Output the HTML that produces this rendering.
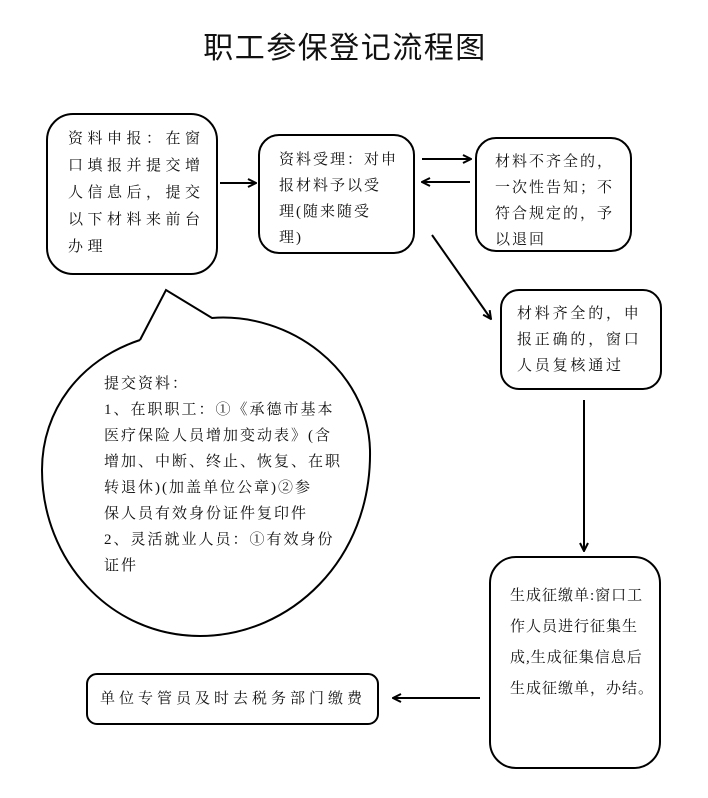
<!DOCTYPE html>
<html><head><meta charset="utf-8"><style>
html,body{margin:0;padding:0;background:#fff}
svg{display:block}
text{font-family:"Liberation Serif","Noto Serif CJK SC","Noto Sans CJK SC",serif;font-size:15px;fill:#111;letter-spacing:2px}
text.w{letter-spacing:4.5px}
text.m{letter-spacing:2.8px}
</style></head><body>
<svg width="708" height="798" viewBox="0 0 708 798" xmlns="http://www.w3.org/2000/svg">
<defs><marker id="a" markerWidth="10" markerHeight="10" refX="9" refY="5" orient="auto" markerUnits="userSpaceOnUse"><path d="M1,1 L9,5 L1,9" fill="none" stroke="#000" stroke-width="2"/></marker></defs>
<text x="345" y="58" text-anchor="middle" style="font-size:30px;font-family:'Noto Sans CJK SC',sans-serif;letter-spacing:1.5px">职工参保登记流程图</text>
<g fill="none" stroke="#000" stroke-width="2">
<rect x="47" y="114" width="170" height="160" rx="26"/>
<rect x="259" y="135" width="155" height="118" rx="20"/>
<rect x="476" y="138" width="155" height="113" rx="20"/>
<rect x="501" y="290" width="160" height="99" rx="18"/>
<rect x="490" y="557" width="170" height="211" rx="26"/>
<rect x="87" y="674" width="291" height="50" rx="10"/>
<path d="M140,340 L166,290 L212,318 C290,312 368,370 370,450 C372,560 290,636 200,636 C110,636 42,560 42,470 C42,410 80,360 140,340"/>
<line x1="220" y1="183" x2="256" y2="183" marker-end="url(#a)"/>
<line x1="422" y1="159" x2="471" y2="159" marker-end="url(#a)"/>
<line x1="470" y1="182" x2="422" y2="182" marker-end="url(#a)"/>
<line x1="432" y1="235" x2="491" y2="319" marker-end="url(#a)"/>
<line x1="584" y1="400" x2="584" y2="551" marker-end="url(#a)"/>
<line x1="480" y1="698" x2="393" y2="698" marker-end="url(#a)"/>
</g>
<text class="w" x="68" y="143">资料申报：在窗</text>
<text class="w" x="68" y="170">口填报并提交增</text>
<text class="w" x="68" y="197">人信息后，提交</text>
<text class="w" x="68" y="224">以下材料来前台</text>
<text class="w" x="68" y="251">办理</text>
<text x="279" y="164">资料受理：对申</text>
<text x="279" y="190">报材料予以受</text>
<text x="279" y="216">理(随来随受</text>
<text x="279" y="242">理)</text>
<text x="495" y="166">材料不齐全的，</text>
<text x="495" y="192">一次性告知；不</text>
<text x="495" y="218">符合规定的，予</text>
<text x="495" y="244">以退回</text>
<text class="m" x="517" y="318">材料齐全的，申</text>
<text class="m" x="517" y="344">报正确的，窗口</text>
<text class="m" x="517" y="370">人员复核通过</text>
<text x="104" y="388">提交资料：</text>
<text x="104" y="414">1、在职职工：①《承德市基本</text>
<text x="104" y="440">医疗保险人员增加变动表》(含</text>
<text x="104" y="466">增加、中断、终止、恢复、在职</text>
<text x="104" y="492">转退休)(加盖单位公章)②参</text>
<text x="104" y="518">保人员有效身份证件复印件</text>
<text x="104" y="544">2、灵活就业人员：①有效身份</text>
<text x="104" y="570">证件</text>
<text x="510" y="600" style="letter-spacing:1px">生成征缴单:窗口工</text>
<text x="510" y="631" style="letter-spacing:1px">作人员进行征集生</text>
<text x="510" y="662" style="letter-spacing:1px">成,生成征集信息后</text>
<text x="510" y="693" style="letter-spacing:1px">生成征缴单，办结。</text>
<text x="100" y="703" style="letter-spacing:4px">单位专管员及时去税务部门缴费</text>
</svg>
</body></html>
